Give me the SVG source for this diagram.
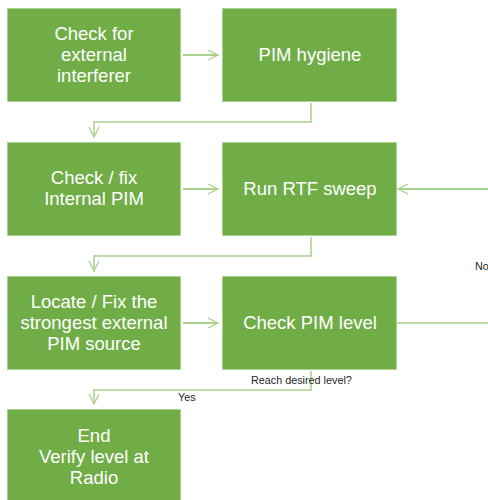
<svg xmlns="http://www.w3.org/2000/svg" width="488" height="500" viewBox="0 0 488 500">
<style>
.box{fill:#70AD47;stroke:#A9D18E;stroke-width:0.8}
.t{font-family:"Liberation Sans",Arial,sans-serif;font-size:18.5px;fill:#FFFFFF;text-anchor:middle}
.c{fill:none;stroke:#A9D18E;stroke-width:1.5}
.h{fill:none;stroke:#8CC26B;stroke-width:1.3}
.lbl{font-family:"Liberation Sans",Arial,sans-serif;font-size:10.8px;fill:#262626}
</style>
<defs>
<marker id="ah" markerWidth="12" markerHeight="12" refX="11" refY="6" orient="auto" markerUnits="userSpaceOnUse">
<path d="M1,1 L11,6 L1,11" fill="none" stroke="#A9D18E" stroke-width="1.3"/>
</marker>
</defs>
<g id="n1"><rect class="box" x="7.5" y="8.5" width="173" height="93"/><text class="t" x="94" y="40">Check for</text><text class="t" x="94" y="61">external</text><text class="t" x="94" y="82">interferer</text></g>
<g id="n2"><rect class="box" x="222.5" y="8.5" width="174" height="93"/><text class="t" x="310" y="61">PIM hygiene</text></g>
<g id="n3"><rect class="box" x="7.5" y="142.5" width="173" height="93"/><text class="t" x="94" y="184">Check / fix</text><text class="t" x="94" y="205">Internal PIM</text></g>
<g id="n4"><rect class="box" x="222.5" y="142.5" width="174" height="93"/><text class="t" x="310" y="195">Run RTF sweep</text></g>
<g id="n5"><rect class="box" x="7.5" y="276.5" width="173" height="93"/><text class="t" x="94" y="308">Locate / Fix the</text><text class="t" x="94" y="329">strongest external</text><text class="t" x="94" y="350">PIM source</text></g>
<g id="n6"><rect class="box" x="222.5" y="276.5" width="174" height="93"/><text class="t" x="310" y="329">Check PIM level</text></g>
<g id="n7"><rect class="box" x="7.5" y="409.5" width="173" height="93"/><text class="t" x="94" y="442">End</text><text class="t" x="94" y="463">Verify level at</text><text class="t" x="94" y="484">Radio</text></g>
<g id="connectors">
<path class="h" d="M183,55 H218" marker-end="url(#ah)"/>
<path class="c" d="M311,103 V122 H94 V137" marker-end="url(#ah)"/>
<path class="h" d="M183,189 H218" marker-end="url(#ah)"/>
<path class="h" d="M488,189 H398" marker-end="url(#ah)"/>
<path class="c" d="M311,237 V256 H94 V271" marker-end="url(#ah)"/>
<path class="h" d="M183,323 H218" marker-end="url(#ah)"/>
<path class="c" d="M397,323 H488"/>
<path class="c" d="M311,371 V390 H94 V404" marker-end="url(#ah)"/>
<text class="lbl" x="475" y="270">No</text>
<text class="lbl" x="251" y="384">Reach desired level?</text>
<text class="lbl" x="178" y="401">Yes</text>
</g>
</svg>
